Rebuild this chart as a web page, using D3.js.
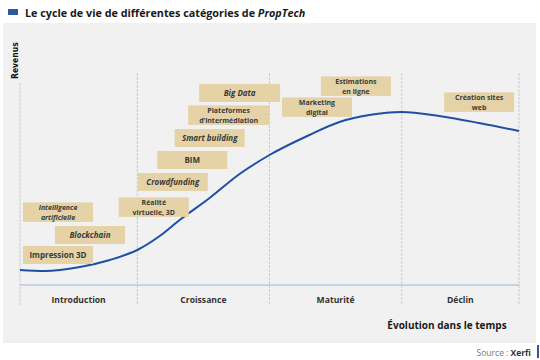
<!DOCTYPE html>
<html>
<head>
<meta charset="utf-8">
<script src="https://cdn.jsdelivr.net/npm/d3@7"></script>
<style>
  body { margin: 0; background: #fff; }
  svg { display: block; font-family: "Open Sans", sans-serif; }
</style>
</head>
<body>
<div id="chart"></div>
<script>
// life-cycle curve: time (0-100) vs revenue (0-100)
const curveTime = [0, 5, 12, 18, 23.5, 28, 32, 38, 44, 50, 58, 64, 70, 76.5, 84, 92, 100];
const curveRevenue = [7.5, 7, 9, 12.5, 17.5, 24.5, 32.5, 43.5, 55.5, 65, 75, 81.5, 85, 86.5, 84.5, 81, 77];

const phases = ["Introduction", "Croissance", "Maturité", "Déclin"];
const phaseBounds = [0, 23.5, 50, 76.5, 100];

// PropTech categories placed along the cycle
const catLabels = [
  ["Intelligence", "artificielle"], ["Blockchain"], ["Impression 3D"],
  ["Réalité", "virtuelle, 3D"], ["Crowdfunding"], ["BIM"], ["Smart building"],
  ["Plateformes", "d’intermédiation"], ["Big Data"], ["Marketing", "digital"],
  ["Estimations", "en ligne"], ["Création sites", "web"]
];
const catTime = [0.6, 7, 0.6, 19.8, 23.6, 27.5, 31, 33.7, 35.9, 52.5, 60.3, 85];
const catRevenue = [41.3, 29.5, 19.5, 43.8, 56, 67, 78, 89.8, 100.5, 93.8, 104.3, 96.3];
const catItalic = [true, true, false, false, true, false, true, false, true, false, false, false];

const width = 540, height = 360;
const x = d3.scaleLinear().domain([0, 100]).range([20, 519]);
const y = d3.scaleLinear().domain([0, 100]).range([285, 85]);

const svg = d3.select("#chart").append("svg")
  .attr("width", width).attr("height", height);

// grey panel
svg.append("rect").attr("x", 3).attr("y", 23).attr("width", 533).attr("height", 320)
  .attr("fill", "#f1f1f1");

// title
svg.append("rect").attr("x", 8).attr("y", 9).attr("width", 10).attr("height", 6)
  .attr("fill", "#2c5aa0");
const title = svg.append("text").attr("x", 25).attr("y", 16.5)
  .attr("font-size", 10.8).attr("font-weight", "bold").attr("fill", "#1a1a1a");
title.append("tspan").text("Le cycle de vie de différentes catégories de ");
title.append("tspan").attr("font-style", "italic").text("PropTech");

// phase separators
svg.append("g").selectAll("line")
  .data(phaseBounds)
  .join("line")
  .attr("x1", d => x(d)).attr("x2", d => x(d))
  .attr("y1", (d, i) => i === 0 ? 83 : 73).attr("y2", 305)
  .attr("stroke", "#c4c4c4").attr("stroke-width", 0.8)
  .attr("stroke-dasharray", "3,1");

// time axis
svg.append("line")
  .attr("x1", x(0)).attr("x2", x(100)).attr("y1", y(0)).attr("y2", y(0))
  .attr("stroke", "#9fb4d6").attr("stroke-width", 1);

// y axis label
svg.append("text")
  .attr("transform", `translate(${x(0) - 2.5},79) rotate(-90)`)
  .attr("font-size", 8.5).attr("font-weight", "bold").attr("fill", "#111")
  .attr("font-family", "'Liberation Sans Narrow', 'DejaVu Sans Condensed', sans-serif")
  .text("Revenus");

// phase labels
svg.append("g").selectAll("text")
  .data(phases)
  .join("text")
  .attr("x", (d, i) => x((phaseBounds[i] + phaseBounds[i + 1]) / 2))
  .attr("y", 303)
  .attr("text-anchor", "middle")
  .attr("font-size", 8.6).attr("font-weight", "bold").attr("fill", "#333")
  .text(d => d);

svg.append("text").attr("x", 447).attr("y", 329).attr("text-anchor", "middle")
  .attr("font-size", 10).attr("font-weight", "bold").attr("fill", "#1a1a1a")
  .text("Évolution dans le temps");

// curve
const curvePts = curveTime.map((t, i) => [t, curveRevenue[i]]);
svg.append("path")
  .datum(curvePts)
  .attr("fill", "none").attr("stroke", "#1f4fa3").attr("stroke-width", 2)
  .attr("d", d3.line().x(d => x(d[0])).y(d => y(d[1])).curve(d3.curveMonotoneX));

// category boxes
const boxH = d => d.length > 1 ? 19.5 : 18;
const boxW = d => d[0] === "Plateformes" || d[0] === "Big Data" ? 81 : 70;
const boxG = svg.append("g").selectAll("g")
  .data(catLabels)
  .join("g")
  .attr("transform", (d, i) => `translate(${x(catTime[i])},${y(catRevenue[i])})`);

boxG.append("rect").attr("width", boxW).attr("height", boxH).attr("fill", "#e5d3a7");
boxG.append("text")
  .attr("text-anchor", "middle")
  .attr("font-weight", "bold").attr("fill", "#3a3a3a")
  .attr("font-size", d => d.length > 1 ? 7 : 8)
  .attr("font-style", (d, i) => catItalic[i] ? "italic" : "normal")
  .each(function(d) {
    const w = boxW(d);
    d3.select(this).selectAll("tspan")
      .data(d.map((s, k) => ({s, k, n: d.length})))
      .join("tspan")
      .attr("x", w / 2)
      .attr("y", t => t.n === 1 ? 12 : 7.6 + t.k * 9.6)
      .text(t => t.s);
  });

// source
svg.append("text").attr("x", 531).attr("y", 356).attr("text-anchor", "end")
  .attr("font-size", 8.5).attr("fill", "#777")
  .text("Source : ")
  .append("tspan").attr("font-weight", "bold").attr("fill", "#333").text("Xerfi");
svg.append("rect").attr("x", 537).attr("y", 345).attr("width", 2).attr("height", 13)
  .attr("fill", "#2c5aa0");
</script>
</body>
</html>
